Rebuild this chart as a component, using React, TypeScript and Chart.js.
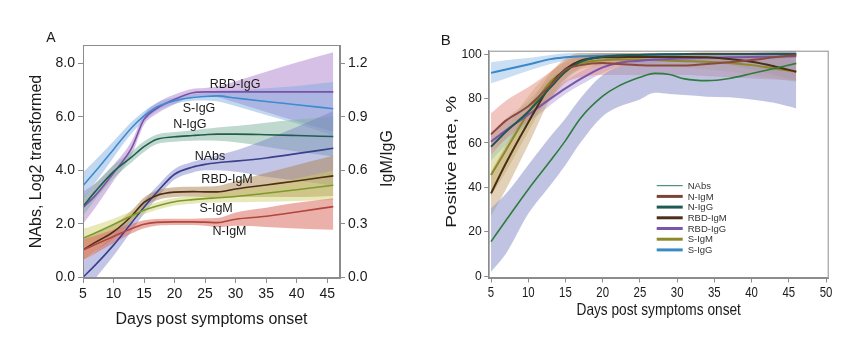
import React, { useEffect, useRef } from "react";
import { Chart, registerables } from "chart.js";

Chart.register(...registerables);

const FONT = "'Liberation Sans', Arial, Helvetica, sans-serif";

// ---------------- Panel A data ----------------
const daysA = [5, 7, 10, 13, 15, 17, 20, 23, 25, 27, 30, 35, 40, 46];
const xTicksA = [5, 10, 15, 20, 25, 30, 35, 40, 45];
const yTicksA = [0, 2, 4, 6, 8];
const y2TicksA = [0, 0.3, 0.6, 0.9, 1.2];

const sIgGA = [3.42, 3.95, 4.78, 5.6, 6.03, 6.36, 6.6, 6.72, 6.76, 6.78, 6.7, 6.57, 6.45, 6.3];
const sIgGALo = [2.92, 3.53, 4.48, 5.38, 5.85, 6.21, 6.48, 6.6, 6.61, 6.58, 6.4, 6.07, 5.75, 5.3];
const sIgGAHi = [3.92, 4.37, 5.08, 5.82, 6.21, 6.51, 6.72, 6.84, 6.91, 6.98, 7.0, 7.07, 7.15, 7.3];

const rbdIgGA = [2.6, 3.05, 3.9, 4.85, 5.9, 6.3, 6.65, 6.9, 6.93, 6.93, 6.93, 6.93, 6.93, 6.93];
const rbdIgGALo = [2.0, 2.6, 3.6, 4.6, 5.7, 6.1, 6.47, 6.75, 6.78, 6.73, 6.53, 6.18, 5.83, 5.45];
const rbdIgGAHi = [3.2, 3.5, 4.2, 5.1, 6.1, 6.5, 6.83, 7.05, 7.08, 7.13, 7.33, 7.68, 8.03, 8.41];

const nIgGA = [2.65, 3.2, 3.95, 4.5, 4.88, 5.15, 5.25, 5.3, 5.33, 5.35, 5.35, 5.33, 5.3, 5.26];
const nIgGALo = [2.3, 2.9, 3.7, 4.3, 4.68, 4.97, 5.07, 5.1, 5.11, 5.1, 5.05, 4.88, 4.7, 4.51];
const nIgGAHi = [3.0, 3.5, 4.2, 4.7, 5.08, 5.33, 5.43, 5.5, 5.55, 5.6, 5.65, 5.78, 5.9, 6.01];

const nAbsA = [0.0, 0.45, 1.2, 2.05, 2.62, 3.15, 3.85, 4.12, 4.22, 4.28, 4.34, 4.46, 4.62, 4.82];
const nAbsALo = [-0.6, -0.05, 0.8, 1.75, 2.37, 2.93, 3.65, 3.92, 4.0, 4.0, 3.94, 3.76, 3.62, 3.42];
const nAbsAHi = [0.6, 0.95, 1.6, 2.35, 2.87, 3.37, 4.05, 4.32, 4.44, 4.56, 4.74, 5.16, 5.62, 6.22];

const rbdIgMA = [1.02, 1.3, 1.7, 2.3, 2.8, 3.05, 3.18, 3.2, 3.19, 3.19, 3.3, 3.45, 3.6, 3.79];
const rbdIgMALo = [0.62, 0.97, 1.45, 2.1, 2.62, 2.87, 3.0, 3.02, 2.99, 2.97, 3.0, 3.0, 3.0, 3.04];
const rbdIgMAHi = [1.42, 1.63, 1.95, 2.5, 2.98, 3.23, 3.36, 3.38, 3.39, 3.41, 3.6, 3.9, 4.2, 4.54];

const sIgMA = [1.46, 1.65, 1.97, 2.3, 2.5, 2.65, 2.82, 2.9, 2.94, 2.97, 3.02, 3.14, 3.27, 3.44];
const sIgMALo = [1.11, 1.35, 1.75, 2.12, 2.35, 2.51, 2.68, 2.75, 2.78, 2.79, 2.8, 2.82, 2.85, 2.89];
const sIgMAHi = [1.81, 1.95, 2.19, 2.48, 2.65, 2.79, 2.96, 3.05, 3.1, 3.15, 3.24, 3.46, 3.69, 3.99];

const nIgMA = [1.02, 1.22, 1.52, 1.82, 1.98, 2.05, 2.07, 2.07, 2.06, 2.04, 2.17, 2.28, 2.44, 2.64];
const nIgMALo = [0.62, 0.89, 1.27, 1.64, 1.83, 1.92, 1.95, 1.95, 1.92, 1.87, 1.92, 1.88, 1.82, 1.77];
const nIgMAHi = [1.42, 1.55, 1.77, 2.0, 2.13, 2.18, 2.19, 2.19, 2.2, 2.21, 2.42, 2.6, 2.78, 2.95];

// in-plot series labels of panel A (data coordinates)
const labelTextA = ["RBD-IgG", "S-IgG", "N-IgG", "NAbs", "RBD-IgM", "S-IgM", "N-IgM"];
const labelXA = [29.9, 24.0, 22.5, 25.8, 28.6, 26.8, 29.0];
const labelYA = [7.21, 6.32, 5.72, 4.53, 3.66, 2.58, 1.7];

// ---------------- Panel B data ----------------
const daysB = [5, 7, 10, 13, 15, 17, 20, 22, 25, 27, 29, 31, 34, 37, 40, 43, 46];
const xTicksB = [5, 10, 15, 20, 25, 30, 35, 40, 45, 50];
const yTicksB = [0, 20, 40, 60, 80, 100];

const nAbsB = [15.5, 25, 39, 52, 61, 71, 81, 85.3, 89.5, 91.3, 90.8, 88.8, 88, 89, 91.2, 93.5, 95.8];
const nAbsBLo = [1.9, 10, 28, 41, 50, 60, 72, 76, 79.5, 82.5, 82, 81.5, 80.8, 80.5, 79.5, 78, 75.5];
const nAbsBHi = [30.5, 37, 50, 63, 71, 80, 90.5, 94, 97, 98.5, 99, 99, 99.5, 100, 100.5, 101, 102];

const nIgMB = [63.8, 70, 76.5, 86, 93, 95, 96, 95.5, 95, 94.8, 94.8, 94.8, 95.5, 96.3, 97.3, 98.5, 99.5];
const nIgMBLo = [54.5, 62, 70, 80, 87, 89.5, 90.5, 90.5, 90.5, 90.5, 90.5, 90.5, 90, 89.5, 89, 88.5, 88];
const nIgMBHi = [73.3, 79, 85, 92, 97, 99, 100.5, 100.5, 100.5, 100.5, 100.5, 100.5, 101, 101, 101, 101, 101];

const nIgGB = [58.2, 65, 74, 85, 92, 96.5, 98.8, 99.3, 99.6, 99.8, 99.9, 100, 100, 100, 100, 100, 100];
const nIgGBLo = [52, 59, 69, 80, 88, 93.5, 97, 98, 98.8, 99, 99.2, 99.3, 99.3, 99.3, 99.3, 99.3, 99.3];
const nIgGBHi = [64, 71, 79, 89.5, 95.5, 99, 100.5, 100.5, 100.5, 100.5, 100.5, 100.5, 100.5, 100.5, 100.5, 100.5, 100.5];

const rbdIgMB = [37.2, 50.8, 69.2, 86, 93.2, 97, 98.5, 98.6, 98.7, 98.7, 98.7, 98.7, 98.5, 97.8, 96.5, 94.5, 92];
const rbdIgMBLo = [27, 39, 59, 80, 89, 94, 96.5, 96.8, 97, 97, 97, 96.8, 96.3, 95, 93, 90.5, 88];
const rbdIgMBHi = [47, 59, 76, 91.5, 98, 100.5, 100.5, 100.5, 100.5, 100.5, 100.5, 100.5, 100.5, 100.5, 100, 99, 97];

const rbdIgGB = [60.5, 65.6, 72.7, 79.9, 84.5, 88.7, 94, 96, 97, 97.5, 97.8, 98, 98.3, 98.5, 98.7, 98.8, 99];
const rbdIgGBLo = [56, 61.5, 69, 77, 82, 86, 91.5, 94, 95.5, 96, 96.5, 96.8, 97, 97.3, 97.5, 97.5, 97.5];
const rbdIgGBHi = [65, 69.5, 76, 83, 88, 92, 96.5, 98, 98.5, 99, 99.2, 99.3, 99.5, 99.7, 99.8, 100, 100.5];

const sIgMB = [45.5, 56.7, 73.5, 87.5, 92.8, 95.8, 97.2, 97.5, 97.5, 97.3, 97, 96.8, 96.5, 96, 95, 93.5, 92];
const sIgMBLo = [36, 47, 65, 82, 89, 93, 95, 95.3, 95.3, 95, 94.5, 94, 93, 92, 90.5, 89, 87.5];
const sIgMBHi = [55, 66, 81, 92, 96.5, 98.8, 99.5, 99.8, 99.8, 99.8, 99.8, 99.8, 100, 100.2, 100.5, 100.8, 101];

const sIgGB = [91.5, 93, 95.3, 97.7, 98.5, 99, 99.2, 99.4, 99.6, 99.7, 99.8, 99.9, 100, 100, 100, 100, 100];
const sIgGBLo = [86.8, 89, 92.5, 95.5, 97, 97.8, 98.2, 98.5, 98.8, 99, 99.2, 99.3, 99.4, 99.5, 99.5, 99.5, 99.5];
const sIgGBHi = [96.3, 97.2, 98.2, 99.6, 100.3, 100.5, 100.5, 100.5, 100.5, 100.5, 100.5, 100.5, 100.5, 100.5, 100.5, 100.5, 100.5];

type Series = { name: string; mean: number[]; lo: number[]; hi: number[]; line: string; band: string; width: number };

const seriesA: Series[] = [
  { name: "N-IgM", mean: nIgMA, lo: nIgMALo, hi: nIgMAHi, line: "#b2463b", band: "rgba(218,112,100,0.55)", width: 1.6 },
  { name: "S-IgM", mean: sIgMA, lo: sIgMALo, hi: sIgMAHi, line: "#7c9a2e", band: "rgba(205,205,100,0.45)", width: 1.6 },
  { name: "RBD-IgM", mean: rbdIgMA, lo: rbdIgMALo, hi: rbdIgMAHi, line: "#4e2f14", band: "rgba(170,130,80,0.5)", width: 1.6 },
  { name: "NAbs", mean: nAbsA, lo: nAbsALo, hi: nAbsAHi, line: "#3b3f8c", band: "rgba(120,126,200,0.45)", width: 1.6 },
  { name: "N-IgG", mean: nIgGA, lo: nIgGALo, hi: nIgGAHi, line: "#1f5e4e", band: "rgba(130,180,160,0.5)", width: 1.6 },
  { name: "S-IgG", mean: sIgGA, lo: sIgGALo, hi: sIgGAHi, line: "#3d8bd0", band: "rgba(120,168,225,0.45)", width: 1.6 },
  { name: "RBD-IgG", mean: rbdIgGA, lo: rbdIgGALo, hi: rbdIgGAHi, line: "#7b52a8", band: "rgba(182,140,208,0.55)", width: 1.6 },
];

const seriesB: Series[] = [
  { name: "NAbs", mean: nAbsB, lo: nAbsBLo, hi: nAbsBHi, line: "#2e7d3e", band: "rgba(150,155,205,0.6)", width: 1.6 },
  { name: "N-IgM", mean: nIgMB, lo: nIgMBLo, hi: nIgMBHi, line: "#8a4a3c", band: "rgba(228,140,130,0.5)", width: 2 },
  { name: "N-IgG", mean: nIgGB, lo: nIgGBLo, hi: nIgGBHi, line: "#1e5a50", band: "rgba(140,190,170,0.4)", width: 2 },
  { name: "RBD-IgM", mean: rbdIgMB, lo: rbdIgMBLo, hi: rbdIgMBHi, line: "#4a2e16", band: "rgba(190,150,100,0.45)", width: 2 },
  { name: "RBD-IgG", mean: rbdIgGB, lo: rbdIgGBLo, hi: rbdIgGBHi, line: "#7a55a8", band: "rgba(175,150,210,0.45)", width: 2 },
  { name: "S-IgM", mean: sIgMB, lo: sIgMBLo, hi: sIgMBHi, line: "#8a8a28", band: "rgba(190,190,90,0.45)", width: 2 },
  { name: "S-IgG", mean: sIgGB, lo: sIgGBLo, hi: sIgGBHi, line: "#3a88c8", band: "rgba(140,185,230,0.45)", width: 2 },
];
const legendColorsB = ["#2a7a5c", "#7a4538", "#1e5a50", "#4a3018", "#7a55a8", "#8a8a2a", "#3a8ac8"];
const legendWidthsB = [1, 3, 3, 3, 3, 3, 3];

const TRANSPARENT = "rgba(0,0,0,0)";

function buildDatasets(days: number[], series: Series[]) {
  const ds: any[] = [];
  const pts = (arr: number[]) => days.map((d, i) => ({ x: d, y: arr[i] }));
  series.forEach((s) => {
    const base = ds.length;
    ds.push({
      label: s.name + " lower", data: pts(s.lo), borderColor: TRANSPARENT, backgroundColor: TRANSPARENT,
      borderWidth: 0, pointRadius: 0, fill: false, cubicInterpolationMode: "monotone",
    });
    ds.push({
      label: s.name + " upper", data: pts(s.hi), borderColor: TRANSPARENT, backgroundColor: s.band,
      borderWidth: 0, pointRadius: 0, fill: { target: base }, cubicInterpolationMode: "monotone",
    });
  });
  series.forEach((s) => {
    ds.push({
      label: s.name, data: pts(s.mean), borderColor: s.line, backgroundColor: s.line,
      borderWidth: s.width, pointRadius: 0, fill: false, cubicInterpolationMode: "monotone",
    });
  });
  return ds;
}

const GRAY = "#8c8c8c";
const TXT = "#1a1a1a";

const framePlugin = {
  id: "frame",
  afterDraw(chart: any) {
    const { ctx, chartArea: a } = chart;
    ctx.save();
    ctx.strokeStyle = GRAY;
    ctx.lineWidth = 1;
    ctx.strokeRect(a.left + 0.5, a.top + 0.5, a.right - a.left - 1, a.bottom - a.top - 1);
    ctx.restore();
  },
};

const panelAPlugin = {
  id: "panelA",
  afterDatasetsDraw(chart: any) {
    const { ctx, chartArea: a, scales } = chart;
    ctx.save();
    ctx.fillStyle = TXT;
    ctx.font = `12.5px ${FONT}`;
    ctx.textAlign = "center";
    ctx.textBaseline = "middle";
    labelTextA.forEach((t, i) => {
      ctx.fillText(t, scales.x.getPixelForValue(labelXA[i]), scales.y.getPixelForValue(labelYA[i]));
    });
    ctx.font = `14px ${FONT}`;
    ctx.fillText("A", a.left - 32, a.top - 7);
    ctx.font = `16px ${FONT}`;
    ctx.translate(a.right + 48, (a.top + a.bottom) / 2 - 3);
    ctx.rotate(-Math.PI / 2);
    ctx.fillText("IgM/IgG", 0, 0);
    ctx.restore();
  },
};

// condensed text helper (the reference panel B uses a horizontally squeezed face)
function squeezedText(ctx: any, text: string, x: number, y: number, sx: number, align: string) {
  ctx.save();
  ctx.translate(x, y);
  ctx.scale(sx, 1);
  ctx.textAlign = align;
  ctx.fillText(text, 0, 0);
  ctx.restore();
}

const panelBPlugin = {
  id: "panelB",
  afterDraw(chart: any) {
    const { ctx, chartArea: a, scales } = chart;
    ctx.save();
    ctx.fillStyle = TXT;
    ctx.textBaseline = "middle";
    // x tick labels
    ctx.font = `15px ${FONT}`;
    xTicksB.forEach((v) => squeezedText(ctx, String(v), scales.x.getPixelForValue(v), a.bottom + 15, 0.76, "center"));
    // y tick labels
    ctx.font = `13.5px ${FONT}`;
    yTicksB.forEach((v) => squeezedText(ctx, String(v), a.left - 7, scales.y.getPixelForValue(v), 0.9, "right"));
    // x title
    ctx.font = `16.5px ${FONT}`;
    squeezedText(ctx, "Days post symptoms onset", (a.left + a.right) / 2, a.bottom + 32, 0.83, "center");
    // y title (rotated, glyph height squeezed)
    ctx.save();
    ctx.font = `19px ${FONT}`;
    ctx.translate(a.left - 37, (a.top + a.bottom) / 2 - 2.5);
    ctx.rotate(-Math.PI / 2);
    ctx.scale(1, 0.8);
    ctx.textAlign = "center";
    ctx.fillText("Positive rate, %", 0, 0);
    ctx.restore();
    // panel letter
    ctx.font = `15px ${FONT}`;
    ctx.textAlign = "center";
    ctx.fillText("B", a.left - 43, a.top - 10);
    // legend
    ctx.font = `9.5px ${FONT}`;
    ctx.textAlign = "left";
    seriesB.forEach((s, i) => {
      const y = a.top + 135 + i * 10.7;
      ctx.strokeStyle = legendColorsB[i];
      ctx.lineWidth = legendWidthsB[i];
      ctx.beginPath();
      ctx.moveTo(a.left + 168, y);
      ctx.lineTo(a.left + 194, y);
      ctx.stroke();
      ctx.fillStyle = "#333";
      ctx.fillText(s.name, a.left + 199, y + 0.5);
    });
    ctx.restore();
  },
};

function axisCommon(size: number, tl: number, showTicks: boolean) {
  return {
    ticks: { display: showTicks, font: { family: FONT, size }, color: TXT, padding: 3, maxRotation: 0, autoSkip: false },
    grid: { drawOnChartArea: false, drawTicks: true, tickLength: tl, color: GRAY, tickColor: GRAY },
    border: { display: true, color: GRAY, width: 1 },
  };
}

function makeChartA(canvas: HTMLCanvasElement) {
  const cA = axisCommon(14, 5, true);
  return new Chart(canvas, {
    type: "line",
    data: { datasets: buildDatasets(daysA, seriesA) },
    plugins: [framePlugin, panelAPlugin],
    options: {
      animation: false,
      responsive: false,
      devicePixelRatio: 1,
      events: [],
      layout: { padding: { left: 23.4, right: 26.4, top: 45, bottom: 22.4 } },
      plugins: {
        legend: { display: false },
        tooltip: { enabled: false },
        filler: { propagate: false, drawTime: "beforeDatasetsDraw" },
      } as any,
      scales: {
        x: {
          type: "linear", position: "bottom", min: 5, max: 47.1, ...cA,
          afterBuildTicks: (s: any) => { s.ticks = xTicksA.map((v) => ({ value: v })); },
          afterFit: (s: any) => { s.height = 55.6; },
          title: { display: true, text: "Days post symptoms onset", color: TXT, font: { family: FONT, size: 16 }, padding: { top: 4, bottom: 4 } },
        },
        y: {
          type: "linear", position: "left", min: -0.03, max: 8.684, ...cA,
          ticks: { ...cA.ticks, callback: (v: any) => Number(v).toFixed(1) },
          afterBuildTicks: (s: any) => { s.ticks = yTicksA.map((v) => ({ value: v })); },
          afterFit: (s: any) => { s.width = 59.6; },
          title: { display: true, text: "NAbs, Log2 transformed", color: TXT, font: { family: FONT, size: 16 }, padding: { top: 4, bottom: 4 } },
        },
        y2: {
          type: "linear", position: "right", min: -0.0045, max: 1.3026, ...cA,
          ticks: { ...cA.ticks, callback: (v: any) => Number(v).toFixed(1) },
          afterBuildTicks: (s: any) => { s.ticks = y2TicksA.map((v) => ({ value: v })); },
          afterFit: (s: any) => { s.width = 63.6; },
        },
      } as any,
    },
  } as any);
}

function makeChartB(canvas: HTMLCanvasElement) {
  const cB = axisCommon(15, 4.5, false);
  return new Chart(canvas, {
    type: "line",
    data: { datasets: buildDatasets(daysB, seriesB) },
    plugins: [framePlugin, panelBPlugin],
    options: {
      animation: false,
      responsive: false,
      devicePixelRatio: 1,
      events: [],
      layout: { padding: { left: 6.1, right: 33.3, top: 50.7, bottom: 31.8 } },
      plugins: {
        legend: { display: false },
        tooltip: { enabled: false },
        filler: { propagate: false, drawTime: "beforeDatasetsDraw" },
      } as any,
      scales: {
        x: {
          type: "linear", position: "bottom", min: 4.69, max: 50.36, ...cB,
          afterBuildTicks: (s: any) => { s.ticks = xTicksB.map((v) => ({ value: v })); },
          afterFit: (s: any) => { s.height = 46.2; },
        },
        y: {
          type: "linear", position: "left", min: -0.9, max: 101.5, ...cB,
          afterBuildTicks: (s: any) => { s.ticks = yTicksB.map((v) => ({ value: v })); },
          afterFit: (s: any) => { s.width = 52.6; },
        },
      } as any,
    },
  } as any);
}

export default function App() {
  const refA = useRef<HTMLCanvasElement | null>(null);
  const refB = useRef<HTMLCanvasElement | null>(null);
  useEffect(() => {
    const a = refA.current ? makeChartA(refA.current) : null;
    const b = refB.current ? makeChartB(refB.current) : null;
    return () => {
      a?.destroy();
      b?.destroy();
    };
  }, []);
  return (
    <div style={{ position: "absolute", left: 0, top: 0, width: 862, height: 356, background: "#fff", overflow: "hidden" }}>
      <canvas ref={refA} width={430} height={356} style={{ position: "absolute", left: 0, top: 0 }} />
      <canvas ref={refB} width={432} height={356} style={{ position: "absolute", left: 430, top: 0 }} />
    </div>
  );
}
